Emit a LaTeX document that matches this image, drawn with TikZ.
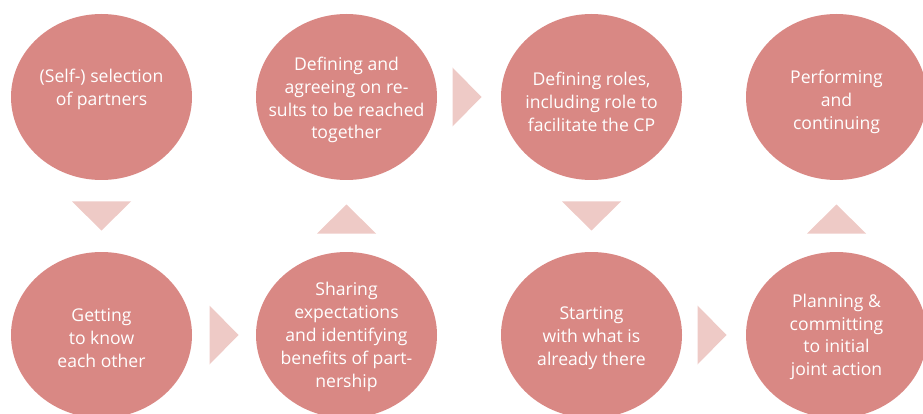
\documentclass[tikz,border=0pt]{standalone}
\usepackage{fontspec}
\setmainfont{Open Sans}
\usepackage{tikz}
\usetikzlibrary{calc}
\usetikzlibrary{shapes.geometric}
\usetikzlibrary{positioning}

\definecolor{stepred}{RGB}{217,136,132}
\definecolor{pointerpink}{RGB}{238,202,198}

\begin{document}
\begin{tikzpicture}[x=1pt,y=-1pt]
% 1 = 1px of the page
    \def\XSTART{101.5}
    \def\XGAP{245} % distance between columns
    \def\YTOP{97}
    \def\YBOT{335}
    \def\TRIW{29.5} % half base of pointers
    \def\TRIH{14.5} % half height of pointers

    \tikzset{
      stepcircle/.style={ellipse, fill=stepred, minimum width=181pt,
        minimum height=166pt, inner sep=0pt},
      steptext/.style={text=white, align=center,
        font=\fontsize{17.6}{22.8}\selectfont},
      pointer/.style={fill=pointerpink},
    }

    \useasboundingbox (0,0) rectangle (923,414);
    \clip (0,0) rectangle (923,414);

    % CIRCLES, top row
    \node[stepcircle] (st1) at (\XSTART,\YTOP) {};
    \node[stepcircle] (st4) at (\XSTART+\XGAP,\YTOP) {};
    \node[stepcircle] (st5) at (\XSTART+2*\XGAP,\YTOP) {};
    \node[stepcircle] (st8) at (\XSTART+3*\XGAP,\YTOP) {};
    % CIRCLES, bottom row
    \node[stepcircle] (st2) at (\XSTART,\YBOT) {};
    \node[stepcircle] (st3) at (\XSTART+\XGAP,\YBOT) {};
    \node[stepcircle] (st6) at (\XSTART+2*\XGAP,\YBOT) {};
    \node[stepcircle] (st7) at (\XSTART+3*\XGAP,\YBOT) {};

    % TEXTS
    \node[steptext, yshift=-5pt] (tx1) at (st1) {(Self-) selection\\of partners\\\strut};
    \node[steptext, yshift=-3pt] (tx4) at (st4) {Defining and\\agreeing on re-\\sults to be reached\\together};
    \node[steptext, yshift=-5pt] (tx5) at (st5) {Defining roles,\\including role to\\facilitate the CP};
    \node[steptext, yshift=-5pt] (tx8) at (st8) {Performing\\and\\continuing};
    \node[steptext, yshift=-3pt] (tx2) at (st2) {Getting\\to know\\each other};
    \node[steptext, yshift=-2pt] (tx3) at (st3) {Sharing\\expectations\\and identifying\\benefits of part-\\nership};
    \node[steptext, yshift=-3pt] (tx6) at (st6) {Starting\\with what is\\already there};
    \node[steptext, yshift=-2pt] (tx7) at (st7) {Planning \&\\committing\\to initial\\joint action};

    % DOWN POINTERS
    \fill[pointer] ($(st1.south)!0.5!(st2.north)$)
        ++(-\TRIW,-\TRIH) -- ++(2*\TRIW,0) -- ++(-\TRIW,2*\TRIH) -- cycle;
    \fill[pointer] ($(st5.south)!0.5!(st6.north)$)
        ++(-\TRIW,-\TRIH) -- ++(2*\TRIW,0) -- ++(-\TRIW,2*\TRIH) -- cycle;

    % UP POINTERS
    \fill[pointer] ($(st3.north)!0.5!(st4.south)$) ++(0,3)
        ++(-\TRIW,\TRIH) -- ++(2*\TRIW,0) -- ++(-\TRIW,-2*\TRIH) -- cycle;
    \fill[pointer] ($(st7.north)!0.5!(st8.south)$) ++(0,3)
        ++(-\TRIW,\TRIH) -- ++(2*\TRIW,0) -- ++(-\TRIW,-2*\TRIH) -- cycle;

    % RIGHT POINTERS
    \fill[pointer] ($(st2.east)!0.5!(st3.west)$)
        ++(-\TRIH,-\TRIW) -- ++(0,2*\TRIW) -- ++(2*\TRIH,-\TRIW) -- cycle;
    \fill[pointer] ($(st4.east)!0.5!(st5.west)$) ++(-2,0)
        ++(-\TRIH,-\TRIW) -- ++(0,2*\TRIW) -- ++(2*\TRIH,-\TRIW) -- cycle;
    \fill[pointer] ($(st6.east)!0.5!(st7.west)$) ++(-2,0)
        ++(-\TRIH,-\TRIW) -- ++(0,2*\TRIW) -- ++(2*\TRIH,-\TRIW) -- cycle;

\end{tikzpicture}
\end{document}
